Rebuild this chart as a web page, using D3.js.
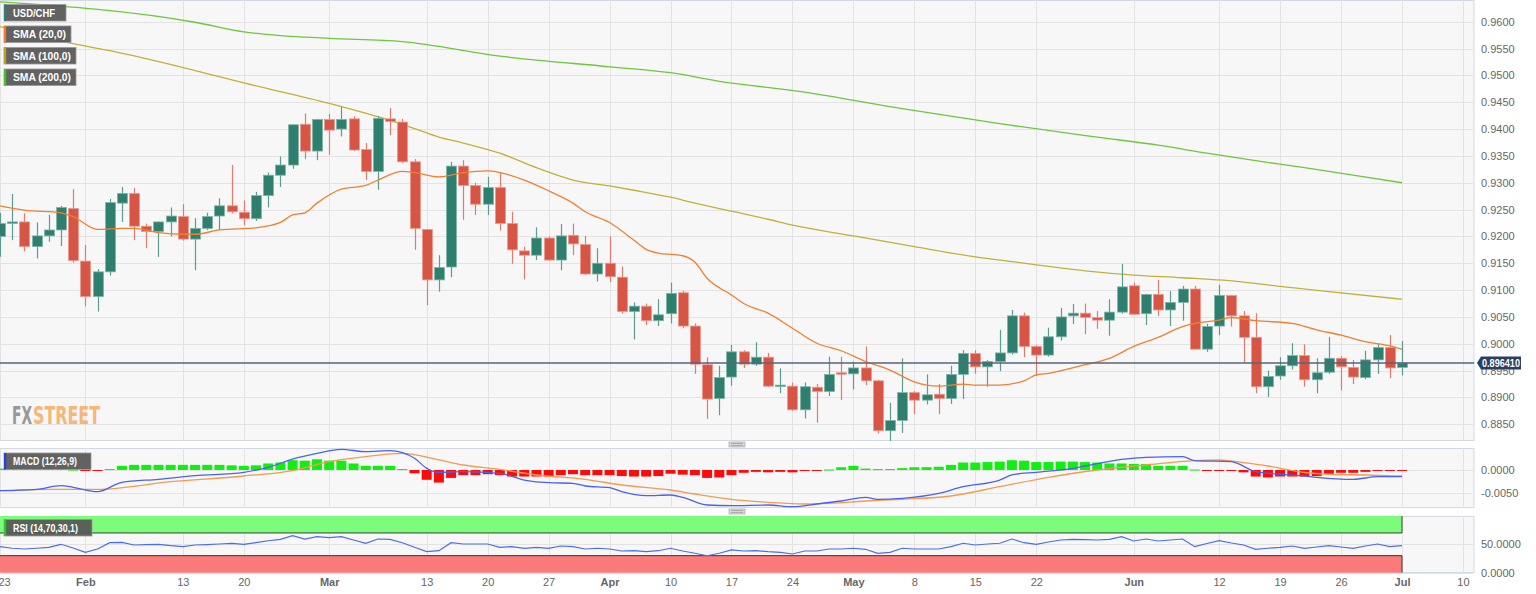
<!DOCTYPE html>
<html><head><meta charset="utf-8">
<script src="https://cdn.jsdelivr.net/npm/d3@7"></script>
<style>
html,body{margin:0;padding:0;background:#fff;}
svg{display:block;font-family:"Liberation Sans",Arial,sans-serif;}
</style></head>
<body><svg id="c" width="1536" height="594"></svg>
<script>
// ---------------- DATA ----------------
const startDate = "2023-01-23";
const open = [0.9200,0.9224,0.9227,0.9181,0.9201,0.9212,0.9252,0.9154,0.9088,0.9134,0.9262,0.9280,0.9219,0.9209,0.9227,0.9237,0.9195,0.9215,0.9238,0.9257,0.9245,0.9233,0.9276,0.9314,0.9333,0.9409,0.9359,0.9418,0.9400,0.9419,0.9362,0.9321,0.9419,0.9413,0.9339,0.9213,0.9119,0.9143,0.9331,0.9295,0.9260,0.9291,0.9224,0.9173,0.9165,0.9197,0.9156,0.9202,0.9185,0.9130,0.9150,0.9124,0.9060,0.9070,0.9043,0.9056,0.9095,0.9033,0.8961,0.8898,0.8938,0.8985,0.8962,0.8975,0.8921,0.8921,0.8877,0.8919,0.8911,0.8946,0.8944,0.8955,0.8931,0.8838,0.8857,0.8909,0.8895,0.8906,0.8898,0.8943,0.8982,0.8957,0.8967,0.8983,0.9052,0.8995,0.8979,0.9013,0.9052,0.9057,0.9049,0.9044,0.9059,0.9108,0.9056,0.9092,0.9063,0.9077,0.9102,0.8990,0.9033,0.9090,0.9052,0.9012,0.8920,0.8940,0.8959,0.8978,0.8933,0.8947,0.8973,0.8956,0.8937,0.8970,0.8993,0.8956];
const high = [0.9244,0.9279,0.9243,0.9226,0.9240,0.9257,0.9288,0.9184,0.9139,0.9270,0.9292,0.9290,0.9224,0.9228,0.9254,0.9260,0.9234,0.9244,0.9271,0.9333,0.9267,0.9283,0.9319,0.9349,0.9409,0.9429,0.9419,0.9428,0.9441,0.9424,0.9374,0.9424,0.9439,0.9419,0.9344,0.9214,0.9165,0.9339,0.9342,0.9300,0.9311,0.9319,0.9246,0.9181,0.9217,0.9200,0.9223,0.9224,0.9201,0.9178,0.9200,0.9144,0.9077,0.9075,0.9083,0.9114,0.9099,0.9038,0.8975,0.8959,0.8998,0.8988,0.9003,0.8983,0.8954,0.8928,0.8928,0.8925,0.8976,0.8976,0.8967,0.8995,0.8933,0.8890,0.8973,0.8912,0.8943,0.8925,0.8959,0.8988,0.8988,0.8970,0.9026,0.9063,0.9058,0.8998,0.9030,0.9067,0.9074,0.9075,0.9061,0.9083,0.9149,0.9114,0.9093,0.9119,0.9098,0.9108,0.9108,0.9037,0.9110,0.9091,0.9061,0.9057,0.8950,0.8975,0.9001,0.8999,0.8973,0.9013,0.8977,0.8970,0.8987,0.9000,0.9016,0.9005];
const low = [0.9162,0.9193,0.9172,0.9159,0.9190,0.9182,0.9151,0.9070,0.9060,0.9127,0.9227,0.9193,0.9178,0.9162,0.9200,0.9192,0.9137,0.9212,0.9212,0.9243,0.9221,0.9229,0.9254,0.9292,0.9326,0.9344,0.9342,0.9352,0.9386,0.9359,0.9305,0.9287,0.9389,0.9337,0.9175,0.9072,0.9097,0.9124,0.9231,0.9240,0.9240,0.9211,0.9149,0.9120,0.9156,0.9155,0.9137,0.9165,0.9128,0.9116,0.9115,0.9056,0.9008,0.9035,0.9033,0.9038,0.9029,0.8944,0.8860,0.8867,0.8922,0.8955,0.8959,0.8920,0.8908,0.8875,0.8861,0.8853,0.8903,0.8895,0.8915,0.8923,0.8833,0.8819,0.8834,0.8869,0.8887,0.8869,0.8888,0.8897,0.8944,0.8920,0.8949,0.8980,0.8975,0.8940,0.8976,0.9006,0.9037,0.9018,0.9028,0.9015,0.9056,0.9054,0.9035,0.9052,0.9033,0.9043,0.8989,0.8985,0.9016,0.9032,0.8965,0.8908,0.8901,0.8933,0.8952,0.8920,0.8908,0.8944,0.8913,0.8925,0.8934,0.8944,0.8936,0.8941];
const close = [0.9224,0.9227,0.9181,0.9201,0.9212,0.9254,0.9155,0.9088,0.9134,0.9263,0.9280,0.9219,0.9209,0.9227,0.9238,0.9195,0.9215,0.9237,0.9257,0.9246,0.9233,0.9276,0.9314,0.9333,0.9408,0.9359,0.9418,0.9398,0.9418,0.9361,0.9321,0.9420,0.9414,0.9339,0.9215,0.9119,0.9142,0.9331,0.9295,0.9260,0.9291,0.9224,0.9175,0.9165,0.9197,0.9156,0.9201,0.9186,0.9130,0.9150,0.9125,0.9060,0.9070,0.9043,0.9054,0.9094,0.9033,0.8962,0.8897,0.8937,0.8985,0.8962,0.8975,0.8921,0.8923,0.8877,0.8920,0.8911,0.8943,0.8944,0.8955,0.8931,0.8838,0.8857,0.8909,0.8895,0.8905,0.8898,0.8943,0.8982,0.8957,0.8967,0.8983,0.9052,0.8995,0.8979,0.9013,0.9050,0.9057,0.9049,0.9044,0.9059,0.9106,0.9055,0.9092,0.9063,0.9077,0.9102,0.8990,0.9032,0.9090,0.9052,0.9012,0.8920,0.8939,0.8959,0.8978,0.8933,0.8946,0.8973,0.8957,0.8938,0.8970,0.8993,0.8955,0.89641];
const lastPrice = 0.896410;

const sma20Idx = [0,2,5,6,8,10,11,13,15,16,18,21,23,24,25,26,28,30,31,33,34,36,38,40,41,43,45,47,48,50,52,53,54,56,57,58,60,61,63,65,67,69,71,73,75,76,77,79,80,82,84,85,86,89,91,93,95,97,98,100,101,103,106,108,110,112,114,115];
const sma20 = [0.9257,0.9249,0.9244,0.9237,0.9213,0.9215,0.9215,0.9207,0.9204,0.9204,0.9212,0.9216,0.9226,0.9240,0.9244,0.9262,0.9288,0.9295,0.9305,0.9321,0.9319,0.9311,0.9319,0.9322,0.9319,0.9305,0.9285,0.9262,0.9246,0.9226,0.9193,0.9176,0.9169,0.9164,0.9152,0.9122,0.9091,0.9075,0.9057,0.9029,0.9001,0.8987,0.8967,0.8951,0.8929,0.8923,0.8921,0.8925,0.8923,0.8923,0.8931,0.8942,0.8945,0.8961,0.8973,0.8995,0.9012,0.9032,0.9038,0.9044,0.9049,0.9043,0.9038,0.9026,0.9016,0.9004,0.8996,0.8990];
const sma100Idx = [0,6,9,16,20,27,31,34,36,38,41,44,47,50,52,55,57,60,63,65,70,75,80,83,89,93,97,102,105,109,115];
const sma100 = [0.9591,0.9559,0.9546,0.9509,0.9486,0.9448,0.9423,0.9401,0.9385,0.9374,0.9355,0.9328,0.9305,0.9294,0.9286,0.9273,0.9262,0.9247,0.9232,0.9221,0.9201,0.9181,0.9162,0.9153,0.9136,0.9128,0.9123,0.9115,0.9107,0.9097,0.9083];
const sma200Idx = [0,16,20,23,27,33,41,50,55,59,66,74,82,90,95,99,103,107,111,115];
const sma200 = [0.9637,0.9599,0.9581,0.9574,0.9569,0.9563,0.9536,0.9516,0.9505,0.9489,0.9469,0.9438,0.9410,0.9385,0.9370,0.9355,0.9341,0.9328,0.9314,0.9300];

const macdHist = [0.0003,0.0003,0.0003,0.0003,0.0003,0.0003,0.0001,-0.0002,-0.0002,0.0002,0.0009,0.0011,0.0011,0.0011,0.0011,0.0011,0.0011,0.0011,0.0011,0.0010,0.0009,0.0010,0.0014,0.0016,0.0021,0.0020,0.0023,0.0020,0.0020,0.0014,0.0009,0.0009,0.0009,0.0002,-0.0007,-0.0021,-0.0027,-0.0017,-0.0011,-0.0011,-0.0009,-0.0011,-0.0014,-0.0014,-0.0014,-0.0014,-0.0011,-0.0009,-0.0011,-0.0011,-0.0011,-0.0013,-0.0014,-0.0014,-0.0013,-0.0008,-0.0010,-0.0011,-0.0017,-0.0016,-0.0011,-0.0006,-0.0004,-0.0005,-0.0004,-0.0005,-0.0002,-0.0001,0.0001,0.0006,0.0009,0.0003,0.0002,0.0002,0.0004,0.0006,0.0006,0.0007,0.0011,0.0016,0.0016,0.0017,0.0018,0.0021,0.0020,0.0017,0.0017,0.0018,0.0018,0.0017,0.0016,0.0014,0.0014,0.0013,0.0013,0.0009,0.0009,0.0009,0.0001,-0.0001,-0.0001,-0.0001,-0.0005,-0.0014,-0.0016,-0.0014,-0.0014,-0.0014,-0.0013,-0.0008,-0.0006,-0.0006,-0.0004,-0.0002,-0.0002,-0.0001];
const macdIdx = [0,3,5,6,8,10,13,16,20,22,24,26,28,30,32,33,34,35,36,38,41,43,45,47,48,50,51,53,55,56,58,60,63,65,67,69,71,72,74,77,79,82,83,85,88,89,92,94,97,98,101,103,105,107,108,111,113,115];
const macdLine = [-0.00444,-0.00414,-0.00337,-0.00371,-0.00466,-0.00264,-0.00200,-0.00122,-0.00049,0.00058,0.00236,0.00358,0.00444,0.00393,0.00414,0.00371,0.00251,0.00036,-0.00049,-0.00036,-0.00071,-0.00215,-0.00273,-0.00285,-0.00343,-0.00380,-0.00466,-0.00552,-0.00536,-0.00586,-0.00751,-0.00766,-0.00751,-0.00788,-0.00730,-0.00665,-0.00586,-0.00629,-0.00607,-0.00500,-0.00358,-0.00215,-0.00107,-0.00049,0.00036,0.00086,0.00230,0.00273,0.00285,0.00200,0.00178,-0.00036,-0.00092,-0.00129,-0.00157,-0.00200,-0.00144,-0.00144];
const signalIdx = [0,4,8,14,20,24,27,30,33,36,38,41,44,48,51,55,57,60,63,66,68,71,74,78,82,86,90,94,98,100,102,104,107,109,112,115];
const signalLine = [-0.00444,-0.00414,-0.00414,-0.00251,-0.00129,-0.00015,0.00178,0.00285,0.00358,0.00215,0.00107,0.00015,-0.00107,-0.00200,-0.00322,-0.00429,-0.00515,-0.00629,-0.00693,-0.00730,-0.00715,-0.00665,-0.00629,-0.00558,-0.00358,-0.00157,0.00000,0.00107,0.00200,0.00215,0.00157,0.00086,-0.00054,-0.00092,-0.00107,-0.00129];

const rsi = [45.8,43,41.7,43,44.7,50.0,43.5,35.9,41.7,52.8,53.5,48.8,49.4,50.0,47.5,45.8,48.8,49.5,50.5,51.8,50.0,53,56.3,58.8,65.1,59.3,63.4,61.6,63.4,57.6,51.8,59.3,58.8,52.8,44.7,37.0,38.7,52.8,50.5,50.5,50.5,44.7,46,43.0,44.7,43.0,47.0,45.8,41.7,43.0,41.7,38.2,38.7,37.0,38.7,43.0,38.2,34.2,29.9,34.2,40.0,38.2,38.7,37.0,35.9,32.9,38.2,38.2,41.7,41.7,43.0,41.2,34.2,35.9,43.0,41.7,41.7,41.7,45.8,51.8,48.8,50.5,51.8,59.3,52.8,50.0,54.0,57.6,58.8,58.1,57.6,58.8,63.4,55.8,59.3,55.8,57.6,59.3,45.8,51.4,56.3,52.3,48.8,41.2,43.0,44.7,47.0,43.0,45.2,47.5,45.2,43.0,47.0,50.5,45.8,47.5];
const rsiUpper = 70, rsiLower = 30;

const xTickIdx = [0,7,15,20,27,35,40,45,50,55,60,65,70,75,80,85,93,100,105,110,115,120];
const xTickLabels = ["23","Feb","13","20","Mar","13","20","27","Apr","10","17","24","May","8","15","22","Jun","12","19","26","Jul","10"];
const monthNames = ["Feb","Mar","Apr","May","Jun","Jul"];
const priceTicks = [0.8850,0.8900,0.8950,0.9000,0.9050,0.9100,0.9150,0.9200,0.9250,0.9300,0.9350,0.9400,0.9450,0.9500,0.9550,0.9600];
const macdTicks = [0.0000,-0.0050];
const rsiTicks = [50,0];
const legendMain = ["USD/CHF","SMA (20,0)","SMA (100,0)","SMA (200,0)"];
const legendColors = ["#2b7f7f","#f0782a","#b8a020","#4cc020"];

// ---------------- LAYOUT ----------------
const PR = 1474;
const main = {top:0, bottom:441};
const mac = {top:448, bottom:508};
const rs = {top:516, bottom:573};

const svg = d3.select("#c");
const x = d3.scaleLinear().domain([0,115]).range([0,1402]);
const y = d3.scaleLinear().domain([0.8850,0.9600]).range([424.3,21.7]);
const ym = d3.scaleLinear().domain([-0.005,0]).range([493.3,470]);
const yr = d3.scaleLinear().domain([0,100]).range([572.7,515.9]);
const idx = d3.range(open.length);

const GREEN = "#2f7f6f", RED = "#d65545";

const defs = svg.append("defs");
[["cMain",main],["cMac",mac],["cRsi",rs]].forEach(([id,p])=>{
  defs.append("clipPath").attr("id",id).append("rect")
    .attr("x",0).attr("y",p.top).attr("width",PR).attr("height",p.bottom-p.top);
});

function panel(p){
  svg.append("rect").attr("x",0.5).attr("y",p.top+0.5).attr("width",PR-0.5).attr("height",p.bottom-p.top-1)
    .attr("fill","#f7f7f7").attr("stroke","#d3d9e3").attr("stroke-width",1);
}
panel(main); panel(mac); panel(rs);

// vertical grid
[main,mac,rs].forEach((p,k)=>{
  svg.append("g").attr("clip-path",`url(#${["cMain","cMac","cRsi"][k]})`)
    .selectAll("line").data(xTickIdx).join("line")
    .attr("x1",d=>Math.round(x(d))+0.5).attr("x2",d=>Math.round(x(d))+0.5)
    .attr("y1",p.top).attr("y2",p.bottom).attr("stroke","#e3e3e3");
});
// horizontal grid
svg.append("g").selectAll("line").data(priceTicks).join("line")
  .attr("x1",1).attr("x2",PR-1).attr("y1",d=>Math.round(y(d))+0.5).attr("y2",d=>Math.round(y(d))+0.5)
  .attr("stroke","#e3e3e3");
svg.append("g").selectAll("line").data(macdTicks).join("line")
  .attr("x1",1).attr("x2",PR-1).attr("y1",d=>Math.round(ym(d))+0.5).attr("y2",d=>Math.round(ym(d))+0.5)
  .attr("stroke","#e3e3e3");
svg.append("g").selectAll("line").data(rsiTicks).join("line")
  .attr("x1",1).attr("x2",PR-1).attr("y1",d=>Math.round(yr(d))+0.5).attr("y2",d=>Math.round(yr(d))+0.5)
  .attr("stroke","#e3e3e3");

// FXSTREET watermark
const logoFont = "'DejaVu Sans Condensed','Liberation Sans Narrow',sans-serif";
svg.append("text").attr("x",12).attr("y",424).attr("font-family",logoFont).attr("font-weight","bold")
  .attr("font-size",25).attr("fill","#8e8e8e").attr("opacity",0.9)
  .attr("textLength",20).attr("lengthAdjust","spacingAndGlyphs").text("FX");
svg.append("text").attr("x",33).attr("y",424).attr("font-family",logoFont).attr("font-weight","bold")
  .attr("font-size",25).attr("fill","#f4b06c").attr("opacity",0.9)
  .attr("textLength",67).attr("lengthAdjust","spacingAndGlyphs").text("STREET");

// ---------------- MAIN ----------------
const gm = svg.append("g").attr("clip-path","url(#cMain)");
const lineGen = (xi, yv, ys)=> d3.line().x((d,i)=>x(xi[i])).y(d=>ys(d)).curve(d3.curveMonotoneX)(yv);
gm.append("path").attr("d",lineGen(sma200Idx,sma200,y)).attr("fill","none").attr("stroke","#6cc83c").attr("stroke-width",1.3);
gm.append("path").attr("d",lineGen(sma100Idx,sma100,y)).attr("fill","none").attr("stroke","#c2b03a").attr("stroke-width",1.3);

const candles = gm.append("g").selectAll("g").data(idx).join("g");
candles.append("line")
  .attr("x1",i=>Math.round(x(i))+0.5).attr("x2",i=>Math.round(x(i))+0.5)
  .attr("y1",i=>y(high[i])).attr("y2",i=>y(low[i]))
  .attr("stroke",i=>close[i]>=open[i]?"#5d9d8f":"#e07b6f").attr("stroke-width",1.2);
candles.append("rect")
  .attr("x",i=>Math.round(x(i))-4.5).attr("width",10)
  .attr("y",i=>y(Math.max(open[i],close[i])))
  .attr("height",i=>Math.max(1.5,Math.abs(y(open[i])-y(close[i]))))
  .attr("fill",i=>close[i]>=open[i]?GREEN:RED)
  .attr("stroke",i=>close[i]>=open[i]?"#7fb5a9":"#eb9a90").attr("stroke-width",0.8);

gm.append("path").attr("d",lineGen(sma20Idx,sma20,y)).attr("fill","none").attr("stroke","#f08030").attr("stroke-width",1.3);

// last price line
svg.append("line").attr("x1",0).attr("x2",PR).attr("y1",y(lastPrice)).attr("y2",y(lastPrice))
  .attr("stroke","#56657c").attr("stroke-width",1.6);

// main right axis (0.8950 label sits under the price tag, as in the reference)
const axMain = svg.append("g").attr("transform",`translate(${PR},0)`)
  .call(d3.axisRight(y).tickValues(priceTicks).tickFormat(d3.format(".4f")).tickSize(0).tickPadding(7));
axMain.select(".domain").remove();
axMain.selectAll("text").attr("fill","#666").attr("font-size",11);

// last price tag
const ly = y(lastPrice);
svg.append("path").attr("d",`M${PR+3},${ly} L${PR+7},${ly-6.5} L${PR+47},${ly-6.5} L${PR+47},${ly+6.5} L${PR+7},${ly+6.5} Z`)
  .attr("fill","#2a3f5f");
svg.append("text").attr("x",PR+8).attr("y",ly+4).attr("fill","#fff").attr("font-size",10.5).attr("font-weight","bold")
  .attr("textLength",38).attr("lengthAdjust","spacingAndGlyphs")
  .text(lastPrice.toFixed(6));

// ---------------- MACD ----------------
const gmac = svg.append("g").attr("clip-path","url(#cMac)");
gmac.selectAll("rect").data(idx).join("rect")
  .attr("x",i=>x(i)-5).attr("width",10)
  .attr("y",i=>Math.min(ym(macdHist[i]),ym(0)))
  .attr("height",i=>Math.max(1,Math.abs(ym(macdHist[i])-ym(0))))
  .attr("fill",i=>macdHist[i]>=0?"#11ee11":"#ff0a0a");
gmac.append("path").attr("d",lineGen(signalIdx,signalLine,ym)).attr("fill","none").attr("stroke","#f59a50").attr("stroke-width",1.3);
gmac.append("path").attr("d",lineGen(macdIdx,macdLine,ym)).attr("fill","none").attr("stroke","#4a62ee").attr("stroke-width",1.3);

const axMac = svg.append("g").attr("transform",`translate(${PR},0)`)
  .call(d3.axisRight(ym).tickValues(macdTicks).tickFormat(d=>d3.format(".4f")(d).replace("\u2212","-")).tickSize(0).tickPadding(7));
axMac.select(".domain").remove();
axMac.selectAll("text").attr("fill","#666").attr("font-size",11);

// ---------------- RSI ----------------
const grs = svg.append("g").attr("clip-path","url(#cRsi)");
grs.append("rect").attr("x",0).attr("y",yr(100)).attr("width",x(115)).attr("height",yr(rsiUpper)-yr(100))
  .attr("fill","#7dfb7d");
grs.append("path").attr("d",`M0,${yr(rsiUpper)} H${x(115)} V${yr(100)}`).attr("fill","none").attr("stroke","#2e4a2e").attr("stroke-width",1);
grs.append("rect").attr("x",0).attr("y",yr(rsiLower)).attr("width",x(115)).attr("height",yr(0)-yr(rsiLower))
  .attr("fill","#fb7b7b");
grs.append("path").attr("d",`M0,${yr(rsiLower)} H${x(115)} V${yr(0)}`).attr("fill","none").attr("stroke","#4a2e2e").attr("stroke-width",1);
grs.append("path").attr("d",d3.line().x((d,i)=>x(i)).y(d=>yr(d))(rsi)).attr("fill","none").attr("stroke","#4a6cf0").attr("stroke-width",1.2);

const axRsi = svg.append("g").attr("transform",`translate(${PR},0)`)
  .call(d3.axisRight(yr).tickValues(rsiTicks).tickFormat(d3.format(".4f")).tickSize(0).tickPadding(7));
axRsi.select(".domain").remove();
axRsi.selectAll("text").attr("fill","#666").attr("font-size",11);

// ---------------- X AXIS ----------------
const axX = svg.append("g").attr("transform",`translate(0,576)`)
  .call(d3.axisBottom(x).tickValues(xTickIdx).tickFormat((d,i)=>xTickLabels[i]).tickSize(0).tickPadding(2));
axX.select(".domain").remove();
axX.selectAll("text").attr("fill","#666").attr("font-size",11)
  .attr("font-weight",(d,i)=>monthNames.includes(xTickLabels[i])?"bold":"normal")
  .attr("dx",(d,i)=>i===0?4:0);

// ---------------- HANDLES ----------------
[444.5,511.5].forEach(hy=>{
  svg.append("rect").attr("x",729).attr("y",hy-2.5).attr("width",16).attr("height",5).attr("fill","#d8d8d8").attr("stroke","#a8a8a8").attr("stroke-width",0.7);
  [hy-1,hy+1].forEach(l2=>svg.append("line").attr("x1",731).attr("x2",743).attr("y1",l2).attr("y2",l2).attr("stroke","#999").attr("stroke-width",0.7));
});

// ---------------- LEGEND BOXES ----------------
function legendBox(xp, yp, w, label, color, tl){
  const g = svg.append("g");
  g.append("rect").attr("x",xp+0.5).attr("y",yp+0.5).attr("width",w).attr("height",16.5)
    .attr("fill","#565656").attr("fill-opacity",0.93).attr("stroke","#9a9a9a").attr("stroke-width",0.8);
  g.append("rect").attr("x",xp+0.5).attr("y",yp+0.5).attr("width",2.2).attr("height",16.5).attr("fill",color);
  g.append("text").attr("x",xp+9.5).attr("y",yp+12.8).attr("fill","#fff").attr("font-size",10.5).attr("font-weight","bold")
    .attr("textLength",tl).attr("lengthAdjust","spacingAndGlyphs").text(label);
}
const lw = [62,67,72,72];
const ltl = [42,53,58,58];
const ly0 = [4,25.5,47,68.5];
legendMain.forEach((t,i)=>legendBox(3.5,ly0[i],lw[i],t,legendColors[i],ltl[i]));
legendBox(3.5,452.5,87,"MACD (12,26,9)","#2040e0",64);
legendBox(3.5,519,88,"RSI (14,70,30,1)","#30c030",65);
</script></body></html>
